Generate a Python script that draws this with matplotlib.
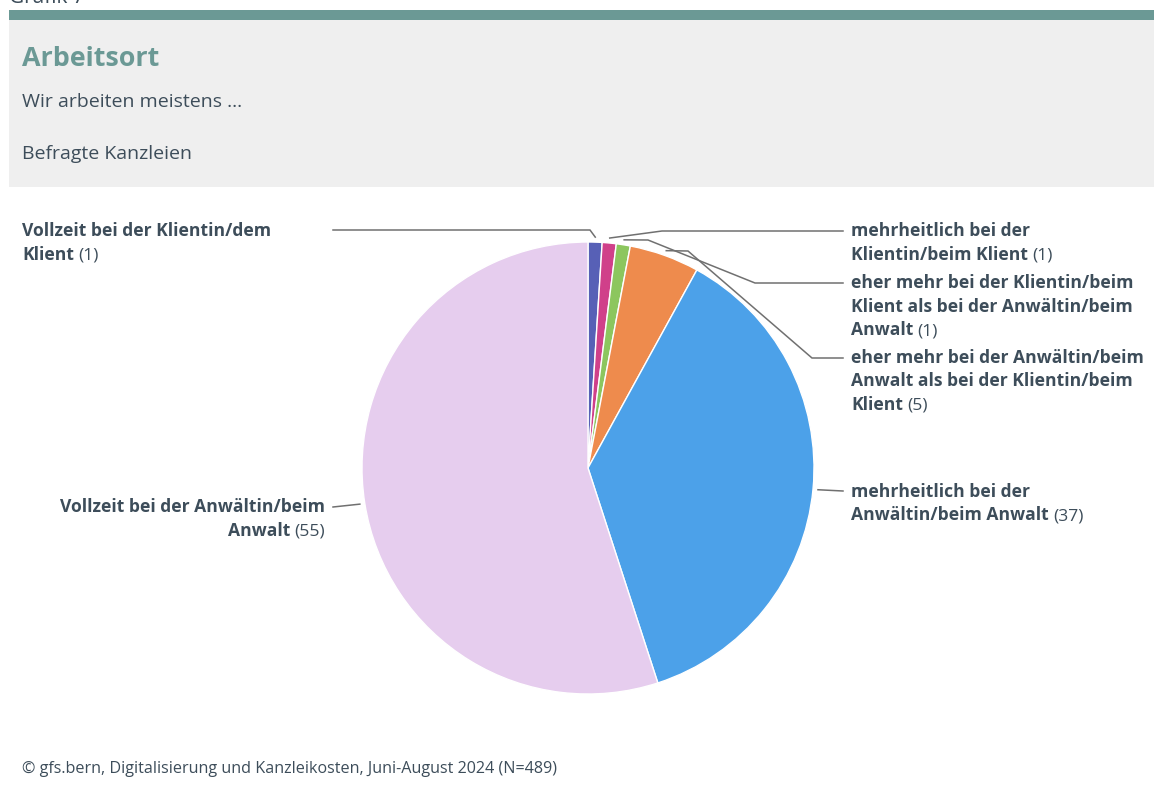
import numpy as np
import matplotlib.pyplot as plt
from matplotlib.patches import Rectangle

plt.rcParams['font.family'] = ['Open Sans', 'DejaVu Sans']

W, H = 1154, 790

# slices, clockwise from 12 o'clock
labels = [
    "Vollzeit bei der Klientin/dem\nKlient",
    "mehrheitlich bei der\nKlientin/beim Klient",
    "eher mehr bei der Klientin/beim\nKlient als bei der Anwältin/beim\nAnwalt",
    "eher mehr bei der Anwältin/beim\nAnwalt als bei der Klientin/beim\nKlient",
    "mehrheitlich bei der\nAnwältin/beim Anwalt",
    "Vollzeit bei der Anwältin/beim\nAnwalt",
]
values = [1, 1, 1, 5, 37, 55]
colors = ["#5760b6", "#d0408a", "#8cc65e", "#ee8b4d", "#4ca1e9", "#e6cdee"]

title = "Arbeitsort"
subtitle = "Wir arbeiten meistens ..."
base = "Befragte Kanzleien"
source = "© gfs.bern, Digitalisierung und Kanzleikosten, Juni-August 2024 (N=489)"

TEXT = "#3d4d5a"
TEAL = "#6b9995"
LINE = "#707070"

# label placement (pixels from top-left): text x, first line y, alignment,
# and the connector bends after the anchor on the pie rim
label_pos = [
    (22, 231, "left", [(590, 230), (333, 230)]),
    (851, 231, "left", [(662, 231), (843, 231)]),
    (851, 283, "left", [(648, 240), (755, 283), (843, 283)]),
    (851, 358, "left", [(688, 251), (812, 358), (843, 358)]),
    (851, 492, "left", [(843, 491)]),
    (325, 507, "right", [(333, 507)]),
]
LSP = 23.5
CX, CY, R = 588, 468, 226


def fy(py):
    return H - py


fig = plt.figure(figsize=(W / 100, H / 100), dpi=100)
ax = fig.add_axes([0, 0, 1, 1])
ax.set_xlim(0, W)
ax.set_ylim(0, H)
ax.axis("off")

# header panel
ax.add_patch(Rectangle((9, fy(187)), W - 9, 167, color="#efefef", lw=0))
ax.add_patch(Rectangle((9, fy(20)), W - 9, 10, color=TEAL, lw=0))
ax.text(9, fy(3), "Grafik 7", fontsize=15, color=TEXT, va="baseline")
ax.text(22, fy(66), title, fontsize=19.4, fontweight="bold", color=TEAL, va="baseline")
ax.text(22, fy(107), subtitle, fontsize=14, color=TEXT, va="baseline")
ax.text(22, fy(159), base, fontsize=14, color=TEXT, va="baseline")
ax.text(22, fy(773), source, fontsize=11.65, color=TEXT, va="baseline")

wedges, _ = ax.pie(values, colors=colors, startangle=90, counterclock=False,
                   center=(CX, fy(CY)), radius=R,
                   wedgeprops=dict(edgecolor="white", linewidth=1))
ax.set_xlim(0, W)
ax.set_ylim(0, H)

renderer = fig.canvas.get_renderer()
total = sum(values)
cum = np.cumsum([0] + values)
fs = 12.6
for i, (lab, v) in enumerate(zip(labels, values)):
    tx, ty, ha, bends = label_pos[i]
    mid = np.deg2rad((cum[i] + v / 2) / total * 360)
    ax_x = CX + (R + 5) * np.sin(mid)
    ax_y = CY - (R + 5) * np.cos(mid)
    pts = [(ax_x, ax_y)] + bends
    ax.plot([p[0] for p in pts], [fy(p[1]) for p in pts], color=LINE, lw=1.1,
            solid_joinstyle="miter")

    lines = lab.split("\n")
    count = f"({v})"
    for k, ln in enumerate(lines):
        by = fy(ty + k * LSP + 5)
        last = k == len(lines) - 1
        if ha == "left":
            t = ax.text(tx, by, ln, fontsize=fs, fontweight="bold", color=TEXT,
                        ha="left", va="baseline")
            if last:
                bb = t.get_window_extent(renderer)
                ax.text(bb.x1 + 4, by, count, fontsize=fs, color=TEXT,
                        ha="left", va="baseline")
        else:
            if last:
                c = ax.text(tx, by, count, fontsize=fs, color=TEXT,
                            ha="right", va="baseline")
                bb = c.get_window_extent(renderer)
                ax.text(bb.x0 - 4, by, ln, fontsize=fs, fontweight="bold",
                        color=TEXT, ha="right", va="baseline")
            else:
                ax.text(tx, by, ln, fontsize=fs, fontweight="bold", color=TEXT,
                        ha="right", va="baseline")

fig.savefig("out.png", dpi=100, facecolor="white")
